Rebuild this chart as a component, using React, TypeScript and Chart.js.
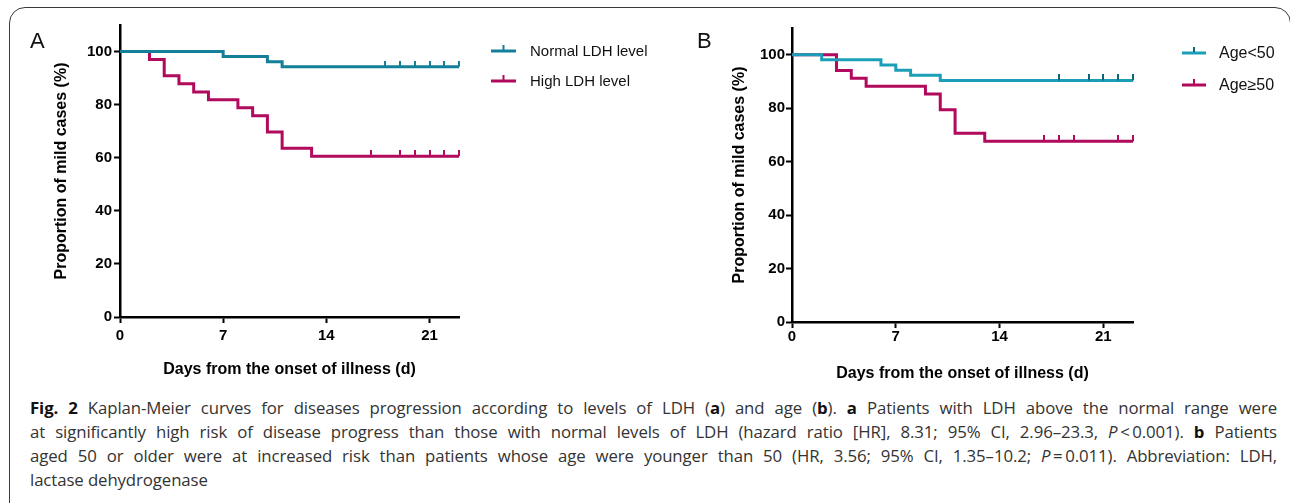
import React, { useEffect, useRef } from "react";
import { Chart, registerables } from "chart.js";

Chart.register(...registerables);

// ---------------- data ----------------
const xTickValues = [0, 7, 14, 21];
const yTickValues = [0, 20, 40, 60, 80, 100];
const xAxisMax = 23;
const yAxisMax = 110;

// Panel A: LDH level
const normalLdhDays = [0, 7, 10, 11, 23];
const normalLdhSurvival = [100, 98.1, 96.2, 94.3, 94.3];
const normalLdhCensored = [18, 19, 20, 21, 22, 23];
const highLdhDays = [0, 2, 3, 4, 5, 6, 8, 9, 10, 11, 13, 23];
const highLdhSurvival = [100, 97.0, 90.9, 87.9, 84.8, 81.8, 78.8, 75.8, 69.7, 63.6, 60.6, 60.6];
const highLdhCensored = [17, 19, 20, 21, 22, 23];

// Panel B: age
const youngDays = [0, 2, 6, 7, 8, 10, 23];
const youngSurvival = [100, 98.1, 96.2, 94.2, 92.3, 90.4, 90.4];
const youngCensored = [18, 20, 21, 22, 23];
const oldDays = [0, 3, 4, 5, 9, 10, 11, 13, 23];
const oldSurvival = [100, 94.1, 91.2, 88.2, 85.3, 79.4, 70.6, 67.6, 67.6];
const oldCensored = [17, 18, 19, 22, 23];

const labelsA = ["Normal LDH level", "High LDH level"];
const labelsB = ["Age<50", "Age\u226550"];

const xTitle = "Days from the onset of illness (d)";
const yTitle = "Proportion of mild cases (%)";

// ---------------- helpers ----------------
const FONT = "'Liberation Sans', Arial, Helvetica, sans-serif";

function survivalAt(days: number[], surv: number[], d: number) {
  let v = surv[0];
  for (let i = 0; i < days.length; i++) if (days[i] <= d) v = surv[i];
  return v;
}

function makeTickMark(color: string) {
  const c = document.createElement("canvas");
  c.width = 2;
  c.height = 12;
  const g = c.getContext("2d")!;
  g.fillStyle = color;
  g.fillRect(0, 0, 2, 6);
  return c;
}

const kmLegend = {
  id: "kmLegend",
  afterDraw(chart: any, _args: any, opts: any) {
    const ctx = chart.ctx;
    const items = chart.data.datasets.filter((d: any) => !d.isCensor);
    ctx.save();
    items.forEach((ds: any, i: number) => {
      const y = opts.y + i * opts.gap;
      ctx.strokeStyle = ds.borderColor;
      ctx.lineWidth = 3;
      ctx.beginPath();
      ctx.moveTo(opts.x, y);
      ctx.lineTo(opts.x + opts.len, y);
      ctx.stroke();
      ctx.fillStyle = ds.tickColor;
      ctx.fillRect(opts.x + opts.len / 2 - 1, y - 6, 2, 5);
      ctx.fillStyle = "#111";
      ctx.font = opts.font;
      ctx.textBaseline = "middle";
      ctx.textAlign = "left";
      ctx.fillText(ds.label, opts.x + opts.textOffset, y + 1);
    });
    ctx.restore();
  },
};

type Series = {
  label: string;
  days: number[];
  surv: number[];
  censored: number[];
  color: string;
  tickColor: string;
};

type PanelLayout = {
  width: number;
  height: number;
  yScaleWidth: number;
  xScaleHeight: number;
  padTop: number;
  padRight: number;
  yTitlePad: number;
  xTitlePad: number;
  xTickPad: number;
  yTickPad: number;
  legend: { x: number; y: number; gap: number; len: number; textOffset: number; font: string };
};

function KMPanel({ series, layout }: { series: Series[]; layout: PanelLayout }) {
  const ref = useRef<HTMLCanvasElement>(null);
  useEffect(() => {
    if (!ref.current) return;
    const datasets: any[] = [];
    series.forEach((s) => {
      datasets.push({
        type: "line",
        label: s.label,
        data: s.days.map((d, i) => ({ x: d, y: s.surv[i] })),
        borderColor: s.color,
        backgroundColor: s.color,
        borderWidth: 3,
        stepped: "before",
        pointRadius: 0,
        fill: false,
        clip: 6,
        tickColor: s.tickColor,
      });
    });
    series.forEach((s) => {
      datasets.push({
        type: "line",
        label: s.label + " censored",
        isCensor: true,
        order: -1,
        data: s.censored.map((d) => ({ x: d, y: survivalAt(s.days, s.surv, d) })),
        showLine: false,
        pointStyle: makeTickMark(s.tickColor),
        pointRadius: 3,
        borderColor: s.tickColor,
        backgroundColor: s.tickColor,
        clip: false,
      });
    });

    const tickFont = { family: FONT, weight: "bold" as const, size: 15 };
    const titleFont = { family: FONT, weight: "bold" as const, size: 16 };

    const chart = new Chart(ref.current, {
      type: "line",
      data: { datasets },
      plugins: [kmLegend as any],
      options: {
        animation: false,
        responsive: false,
        events: [],
        layout: { padding: { left: 0, right: layout.padRight, top: layout.padTop, bottom: 0 } },
        plugins: {
          legend: { display: false },
          tooltip: { enabled: false },
          kmLegend: layout.legend,
        } as any,
        scales: {
          x: {
            type: "linear",
            min: 0,
            max: xAxisMax,
            afterBuildTicks: (s: any) => {
              s.ticks = xTickValues.map((v) => ({ value: v }));
            },
            afterFit: (s: any) => {
              s.height = layout.xScaleHeight;
            },
            grid: {
              display: true,
              drawOnChartArea: false,
              drawTicks: true,
              tickLength: 6,
              tickWidth: 2,
              tickColor: "#000",
            },
            border: { display: true, color: "#000", width: 2.5 },
            ticks: { color: "#000", font: tickFont, padding: layout.xTickPad, maxRotation: 0 },
            title: {
              display: true,
              text: xTitle,
              color: "#000",
              font: titleFont,
              padding: { top: 0, bottom: layout.xTitlePad },
            },
          },
          y: {
            type: "linear",
            min: 0,
            max: yAxisMax,
            afterBuildTicks: (s: any) => {
              s.ticks = yTickValues.map((v) => ({ value: v }));
            },
            afterFit: (s: any) => {
              s.width = layout.yScaleWidth;
            },
            grid: {
              display: true,
              drawOnChartArea: false,
              drawTicks: true,
              tickLength: 6,
              tickWidth: 2,
              tickColor: "#000",
            },
            border: { display: true, color: "#000", width: 2.5 },
            ticks: { color: "#000", font: tickFont, padding: layout.yTickPad },
            title: {
              display: true,
              text: yTitle,
              color: "#000",
              font: titleFont,
              padding: { top: layout.yTitlePad, bottom: 0 },
            },
          },
        },
      } as any,
    });
    return () => chart.destroy();
  }, []);
  return <canvas ref={ref} width={layout.width} height={layout.height} style={{ display: "block" }} />;
}

const TEAL_A = "#137f98";
const TEAL_B = "#1b9fb8";
const TEAL_B_TICK = "#0f6678";
const MAGENTA = "#b1095b";

const seriesA: Series[] = [
  { label: labelsA[0], days: normalLdhDays, surv: normalLdhSurvival, censored: normalLdhCensored, color: TEAL_A, tickColor: TEAL_A },
  { label: labelsA[1], days: highLdhDays, surv: highLdhSurvival, censored: highLdhCensored, color: MAGENTA, tickColor: MAGENTA },
];
const seriesB: Series[] = [
  { label: labelsB[0], days: youngDays, surv: youngSurvival, censored: youngCensored, color: TEAL_B, tickColor: TEAL_B_TICK },
  { label: labelsB[1], days: oldDays, surv: oldSurvival, censored: oldCensored, color: MAGENTA, tickColor: MAGENTA },
];

const layoutA: PanelLayout = {
  width: 690,
  height: 390,
  yScaleWidth: 120,
  xScaleHeight: 73,
  padTop: 25,
  padRight: 231,
  yTitlePad: 52,
  xTitlePad: 11,
  xTickPad: 4,
  yTickPad: 2,
  legend: { x: 491, y: 51, gap: 30, len: 25, textOffset: 39, font: `15px ${FONT}` },
};
const layoutB: PanelLayout = {
  width: 600,
  height: 390,
  yScaleWidth: 102,
  xScaleHeight: 68,
  padTop: 28,
  padRight: 157,
  yTitlePad: 40,
  xTitlePad: 7,
  xTickPad: 0,
  yTickPad: 1,
  legend: { x: 492, y: 53, gap: 32, len: 24, textOffset: 37, font: `16px ${FONT}` },
};

const capFont = "'Open Sans', 'Noto Sans', sans-serif";
const lineStyle = (top: number, justify: boolean): React.CSSProperties => ({
  position: "absolute",
  left: 30,
  top,
  width: 1247,
  whiteSpace: "nowrap",
  textAlign: justify ? "justify" : "left",
  textAlignLast: justify ? "justify" : "left",
  fontFamily: capFont,
  fontSize: 16.8,
  letterSpacing: -0.1,
  lineHeight: "24px",
  color: "#333",
});
const B = ({ children }: { children: React.ReactNode }) => (
  <b style={{ color: "#111", fontWeight: 700 }}>{children}</b>
);

export default function App() {
  return (
    <div
      style={{
        position: "fixed",
        left: 0,
        top: 0,
        width: 1290,
        height: 503,
        overflow: "hidden",
        background: "#fff",
      }}
    >
      <div
        style={{
          position: "absolute",
          left: 9,
          top: 7,
          width: 1282,
          height: 560,
          border: "1.5px solid #3a3a3a",
          borderRadius: 16,
          boxSizing: "border-box",
        }}
      />
      <div style={{ position: "absolute", left: 0, top: 0 }}>
        <KMPanel series={seriesA} layout={layoutA} />
      </div>
      <div style={{ position: "absolute", left: 690, top: 0 }}>
        <KMPanel series={seriesB} layout={layoutB} />
      </div>
      <div style={{ position: "absolute", left: 30, top: 30, fontFamily: FONT, fontSize: 22, lineHeight: "22px", color: "#111" }}>A</div>
      <div style={{ position: "absolute", left: 697, top: 30, fontFamily: FONT, fontSize: 22, lineHeight: "22px", color: "#111" }}>B</div>

      <div style={lineStyle(396, true)}>
        <B>Fig. 2</B> Kaplan-Meier curves for diseases progression according to levels of LDH (<B>a</B>) and age (<B>b</B>). <B>a</B> Patients with LDH above the normal range were
      </div>
      <div style={lineStyle(420, true)}>
        at significantly high risk of disease progress than those with normal levels of LDH (hazard ratio [HR], 8.31; 95% CI, 2.96–23.3, <i>P</i>&thinsp;&lt;&thinsp;0.001). <B>b</B> Patients
      </div>
      <div style={lineStyle(444, true)}>
        aged 50 or older were at increased risk than patients whose age were younger than 50 (HR, 3.56; 95% CI, 1.35–10.2; <i>P</i>&thinsp;=&thinsp;0.011). Abbreviation: LDH,
      </div>
      <div style={lineStyle(468, false)}>lactase dehydrogenase</div>
    </div>
  );
}
